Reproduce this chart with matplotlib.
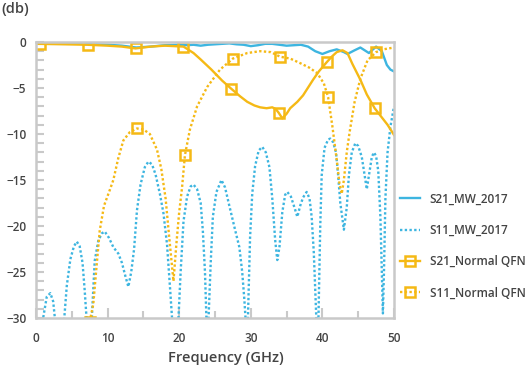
import numpy as np
import matplotlib
matplotlib.use("Agg")
import matplotlib.pyplot as plt

# S21_MW_2017 (solid blue)
s21_mw_f = [0, 2, 4, 6, 8, 10, 12, 14, 16, 18, 20, 21, 22, 23, 24, 25, 26, 27, 28, 29,
            30, 31, 32, 33, 34, 35, 36, 37, 38, 39, 40, 41, 42, 43, 43.5, 44.5, 45.3,
            46.5, 47.5, 48.3, 49, 49.5, 50]
s21_mw_db = [-0.2, -0.2, -0.2, -0.2, -0.25, -0.3, -0.4, -0.6, -0.5, -0.35, -0.3, -0.35,
             -0.3, -0.4, -0.3, -0.25, -0.2, -0.15, -0.25, -0.3, -0.45, -0.35, -0.2, -0.2,
             -0.3, -0.4, -0.35, -0.3, -0.5, -1.0, -1.3, -1.0, -0.8, -1.1, -1.3, -0.9,
             -0.6, -1.2, -0.5, -1.0, -2.5, -3.0, -3.2]

# S11_MW_2017 (dotted blue)
s11_mw_f = [0.7, 1.0, 1.5, 2.0, 2.4, 2.7, 3.3, 3.9, 4.3, 4.8, 5.3, 5.7, 6.1, 6.5, 6.8,
            7.1, 7.45, 7.8, 8.2, 8.7, 9.2, 9.6, 10.2, 10.8, 11.5, 12.0, 12.5, 12.9, 13.3,
            13.7, 14.1, 14.6, 15.2, 15.7, 16.2, 16.7, 17.3, 17.8, 18.3, 18.7, 19.0, 19.45,
            19.9, 20.2, 20.6, 21.1, 21.6, 22.0, 22.5, 23.0, 23.3, 23.6, 23.8, 23.95, 24.1,
            24.4, 24.7, 25.2, 25.9, 26.4, 27.0, 27.8, 28.4, 28.8, 29.1, 29.3, 29.4, 29.6,
            29.9, 30.2, 30.6, 31.1, 31.6, 32.1, 32.6, 33.0, 33.4, 33.7, 34.0, 34.4, 34.8,
            35.1, 35.6, 36.1, 36.5, 36.9, 37.3, 37.8, 38.2, 38.5, 38.8, 39.15, 39.3, 39.45,
            39.7, 39.9, 40.3, 40.8, 41.1, 41.5, 41.9, 42.2, 42.5, 43.0, 43.4, 43.7, 44.1,
            44.6, 45.0, 45.5, 45.9, 46.2, 46.5, 46.9, 47.2, 47.5, 47.8, 48.1, 48.3, 48.45,
            48.6, 48.8, 49.1, 49.5, 50]
s11_mw_db = [-33, -30, -27.7, -27.3, -28.2, -30.5, -35, -30.5, -26.5, -23.6, -22.2, -21.7,
             -22.2, -24.0, -27, -30.5, -35, -30, -23.8, -21.6, -20.8, -20.6, -21.3, -22.3,
             -23, -24, -25.5, -26.6, -25, -22.5, -18.3, -15.5, -13.6, -13.0, -13.3, -14.4,
             -16.5, -18.6, -22, -26.5, -30, -35, -30, -25, -19.5, -16.8, -15.7, -15.5, -16.0,
             -17.5, -20.5, -25, -30, -33, -30, -24, -19, -16.3, -15.0, -15.8, -17.8, -20.4,
             -22.3, -25, -28, -30.5, -33, -30, -21.2, -16.5, -13.5, -11.8, -11.4, -12.0,
             -13.6, -17, -21.5, -23.7, -22.3, -18.5, -16.6, -16.3, -16.8, -18, -19, -17.8,
             -16.9, -16.3, -17, -19, -22.9, -30, -33, -30, -20, -14.5, -11.5, -10.6, -10.5,
             -10.9, -12, -14.5, -17.5, -20.4, -18, -14.5, -12, -11, -11.3, -12.5, -14.5, -16,
             -14.5, -12.5, -12.0, -12.4, -14, -19, -25, -29.5, -25, -17, -12, -9.2, -7.0]

# S21_Normal QFN (solid yellow, square markers)
s21_qfn_f = [0, 0.5, 4, 7.2, 10, 12, 13.9, 16, 18, 20.6, 22, 23, 24.5, 26, 27.3, 28.5,
             29.5, 30.5, 31.3, 32.2, 33, 33.5, 33.9, 34.4, 35, 35.5, 36.5, 37.3, 38.7,
             39.5, 40.6, 41.3, 42, 42.8, 43.5, 44.2, 45.3, 46.2, 47.3, 48.2, 49.1, 50]
s21_qfn_db = [-0.2, -0.2, -0.25, -0.3, -0.4, -0.5, -0.7, -0.5, -0.4, -0.5, -1.2, -1.9,
              -3.0, -4.2, -5.1, -5.9, -6.5, -6.9, -7.1, -7.2, -7.1, -7.3, -7.7, -8.3,
              -7.8, -7.2, -6.5, -5.8, -4.1, -3.2, -2.2, -1.6, -1.1, -0.9, -1.2, -2.4,
              -4.1, -5.7, -7.2, -8.1, -9.0, -10.1]
s21_qfn_marks = [0.5, 7.2, 13.9, 20.6, 27.3, 33.9, 40.6, 47.3]

# S11_Normal QFN (dotted yellow, square markers)
s11_qfn_f = [7.5, 8.0, 8.5, 8.9, 9.5, 10.3, 10.8, 11.5, 12.2, 13.1, 14.1, 15.0, 15.9, 16.9,
             17.5, 18.1, 18.6, 19.2, 19.6, 20.0, 20.4, 20.8, 21.5, 22.5, 23.9, 25.7, 27.5,
             29.5, 31.3, 32.8, 34.1, 35.5, 36.9, 38.2, 39.3, 40.2, 40.8, 41.4, 42.0, 42.4,
             42.7, 43.0, 43.4, 43.8, 44.5, 45.3, 46.3, 47.5, 48.5, 50]
s11_qfn_db = [-30.4, -28.5, -24.0, -20.5, -17.8, -16.1, -15.0, -12.6, -10.7, -9.8, -9.4,
              -9.5, -10.0, -11.7, -13.8, -17.0, -21.2, -26.0, -22.0, -18.5, -15.8, -12.3,
              -9.5, -7.0, -4.9, -3.0, -1.8, -1.2, -1.0, -1.1, -1.6, -1.8, -2.3, -2.8, -3.4,
              -4.5, -6.0, -9.2, -12.8, -15.5, -16.5, -15.0, -12.0, -9.8, -6.5, -4.0, -2.0,
              -1.1, -0.8, -0.6]
s11_qfn_marks = [7.5, 14.1, 20.8, 27.5, 34.1, 40.8, 47.5]

labels = ["S21_MW_2017", "S11_MW_2017", "S21_Normal QFN", "S11_Normal QFN"]

blue = "#3db5e0"
yellow = "#f5b915"
grey = "#c9c9c9"
text_col = "#444444"

plt.rcParams["font.family"] = ["Open Sans", "DejaVu Sans"]
plt.rcParams["font.weight"] = 600

fig = plt.figure(figsize=(5.27, 3.68), dpi=100)
ax = fig.add_axes([36 / 527, 1 - 318 / 368, 358 / 527, 276 / 368])

ax.plot(s21_mw_f, s21_mw_db, color=blue, lw=1.7, label=labels[0])
ax.plot(s11_mw_f, s11_mw_db, color=blue, lw=1.7, dashes=(1, 1), label=labels[1])

idx21 = [s21_qfn_f.index(m) for m in s21_qfn_marks]
ax.plot(s21_qfn_f, s21_qfn_db, color=yellow, lw=1.7, marker="s", markersize=7.5,
        markerfacecolor="none", markeredgewidth=1.8, markevery=idx21, label=labels[2])
idx11 = [s11_qfn_f.index(m) for m in s11_qfn_marks]
ax.plot(s11_qfn_f, s11_qfn_db, color=yellow, lw=1.7, dashes=(1, 1), marker="s",
        markersize=7.5, markerfacecolor="none", markeredgewidth=1.8, markevery=idx11,
        label=labels[3])

ax.set_xlim(0, 50)
ax.set_ylim(-30, 0)
ax.set_xticks(np.arange(0, 51, 10))
ax.set_xticks(np.arange(5, 50, 10), minor=True)
ax.set_yticks(np.arange(-30, 1, 5))
ax.set_yticks(np.arange(-30, 1, 1), minor=True)

for s in ax.spines.values():
    s.set_color(grey)
    s.set_linewidth(1.8)

ax.tick_params(axis="both", which="both", direction="in", color=grey, width=1.5,
               labelcolor=text_col, labelsize=8.5)
ax.tick_params(axis="x", which="major", length=7, pad=10)
ax.tick_params(axis="x", which="minor", length=5)
ax.tick_params(axis="y", which="both", length=5.5, pad=7)

fig.text(0.002, 1 - 9 / 368, "(db)", fontsize=10.5, color=text_col,
         ha="left", va="center")
fig.text(226 / 527, 1 - 358 / 368, "Frequency (GHz)", fontsize=10.5,
         color=text_col, ha="center", va="center")

leg = fig.legend(loc="center left", bbox_to_anchor=(400 / 527, 1 - 246 / 368),
                 frameon=False, borderpad=0, borderaxespad=0, handlelength=1.7,
                 handletextpad=0.8, labelspacing=1.55, fontsize=8.5)
for t in leg.get_texts():
    t.set_color(text_col)

fig.savefig("out.png", dpi=100)
